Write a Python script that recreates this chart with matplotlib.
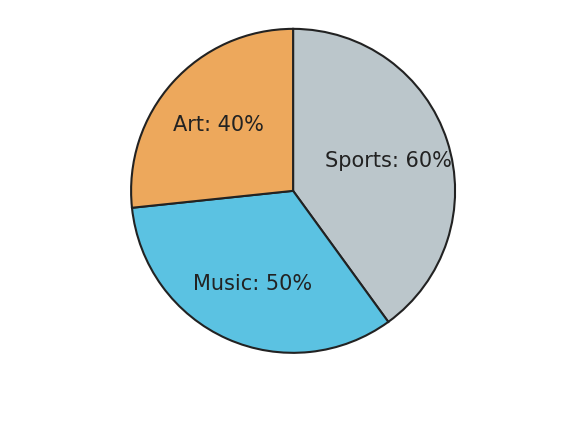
import matplotlib
matplotlib.use("Agg")
import matplotlib.pyplot as plt

# data
categories = ["Sports", "Music", "Art"]
values = [60, 50, 40]
colors = ["#bbc6cb", "#5bc2e2", "#eda85c"]

labels = [f"{c}: {v}%" for c, v in zip(categories, values)]

fig = plt.figure(figsize=(5.85, 4.39), dpi=100)
ax = fig.add_axes([0.224, 0.194, 0.554, 0.738])

wedges, texts = ax.pie(
    values,
    colors=colors,
    startangle=90,
    counterclock=False,
    labels=labels,
    labeldistance=0.62,
    wedgeprops=dict(edgecolor="#222222", linewidth=1.5),
    textprops=dict(fontsize=15, color="#222222"),
)
for t in texts:
    t.set_horizontalalignment("center")
    t.set_verticalalignment("center")

ax.set_xlim(-1.0, 1.0)
ax.set_ylim(-1.0, 1.0)
ax.set_aspect("equal")
ax.axis("off")

fig.savefig("out.png", dpi=100)
